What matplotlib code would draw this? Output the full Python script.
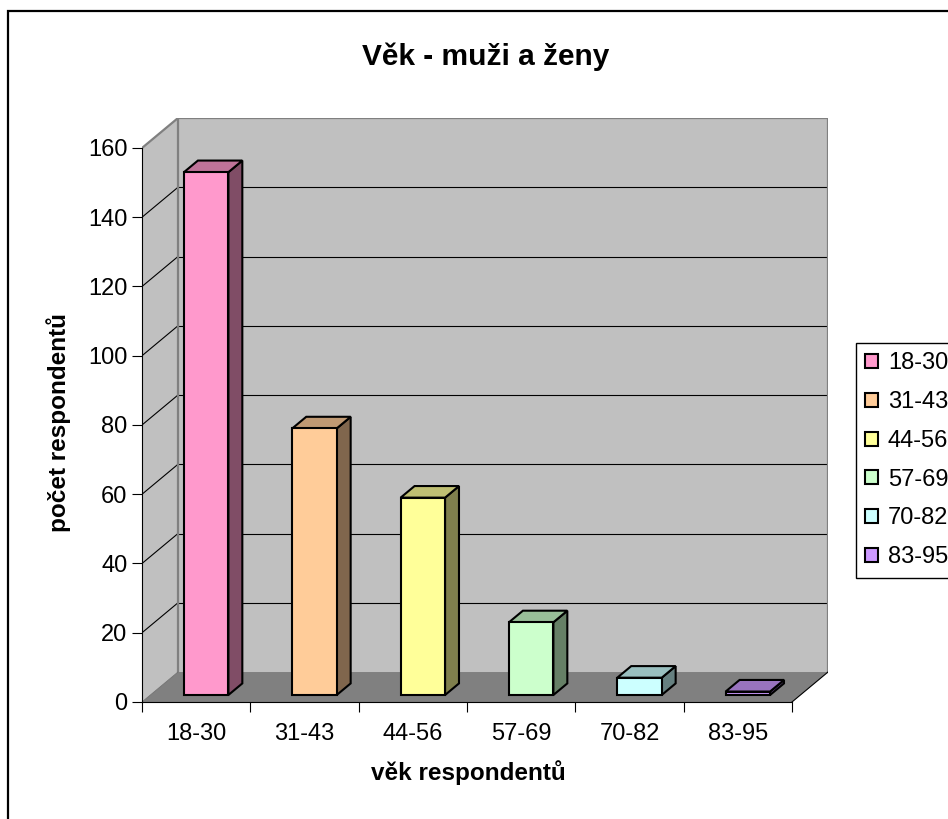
import matplotlib
matplotlib.use('Agg')
import matplotlib.pyplot as plt
from matplotlib.patches import Polygon, Rectangle, Patch

# ---------------------------------------------------------------- data
kategorie = ['18-30', '31-43', '44-56', '57-69', '70-82', '83-95']
pocet = [151, 77, 57, 21, 5, 1]
barvy = ['#FF99CC', '#FFCC99', '#FFFF99', '#CCFFCC', '#CCFFFF', '#CC99FF']
y_ticks = [0, 20, 40, 60, 80, 100, 120, 140, 160]

plt.rcParams['font.family'] = ['Liberation Sans', 'DejaVu Sans']

W, H = 948, 819
fig = plt.figure(figsize=(W / 100, H / 100), dpi=100)
ax = fig.add_axes([142 / W, 117 / H, 686 / W, 584 / H])

n = len(kategorie)
ymax = y_ticks[-1]
DX = 0.3324          # hloubka grafu v jednotkach kategorii
DY = 8.66            # hloubka grafu v jednotkach osy y
ax.set_xlim(0, n + DX)
ax.set_ylim(0, ymax + DY)


def stin(c, f):                                         # tmavsi odstin barvy
    r, g, b = matplotlib.colors.to_rgb(c)
    return (r * f, g * f, b * f)


# steny a podlaha
ax.add_patch(Polygon([(0, 0), (DX, DY), (DX, ymax + DY), (0, ymax)], fc='#C0C0C0', ec='none', zorder=0))
ax.add_patch(Rectangle((DX, DY), n, ymax, fc='#C0C0C0', ec='none', zorder=0))
ax.add_patch(Polygon([(0, 0), (n, 0), (n + DX, DY), (DX, DY)], fc='#808080', ec='none', zorder=0))

# mrizka
for v in y_ticks[1:-1]:
    ax.plot([0, DX], [v, v + DY], color='black', lw=0.8, zorder=1)
    ax.plot([DX, n + DX], [v + DY, v + DY], color='black', lw=0.8, zorder=1)

# hrany sten
ax.plot([DX, DX], [DY, ymax + DY], color='#808080', lw=1.6, zorder=1)
ax.plot([0, DX, n + DX, n + DX], [ymax, ymax + DY, ymax + DY, DY], color='#808080', lw=1.6, zorder=1)
ax.plot([n, n + DX], [0, DY], color='black', lw=0.8, zorder=1)
ax.plot([0, DX], [0, DY], color='#707070', lw=0.6, zorder=1)

# sloupce
d0, d1 = 0.233, 0.62
for i, (v, c) in enumerate(zip(pocet, barvy)):
    x0 = i + 0.31
    x1 = i + 0.72
    fx0, fx1, fy = x0 + d0 * DX, x1 + d0 * DX, d0 * DY
    bx0, bx1, by = x0 + d1 * DX, x1 + d1 * DX, d1 * DY
    kw = dict(ec='black', lw=1.5, joinstyle='miter', zorder=3)
    ax.add_patch(Polygon([(fx1, fy), (bx1, by), (bx1, v + by), (fx1, v + fy)], fc=stin(c, 0.5), **kw))
    ax.add_patch(Polygon([(fx0, v + fy), (fx1, v + fy), (bx1, v + by), (bx0, v + by)], fc=stin(c, 0.75), **kw))
    ax.add_patch(Polygon([(fx0, fy), (fx1, fy), (fx1, v + fy), (fx0, v + fy)], fc=c, **kw))

# osy
for s in ['top', 'right']:
    ax.spines[s].set_visible(False)
ax.spines['left'].set_bounds(0, ymax)
ax.spines['bottom'].set_bounds(0, n)
ax.spines['left'].set_linewidth(0.8)
ax.spines['bottom'].set_linewidth(0.8)
ax.set_yticks(y_ticks)
ax.tick_params(axis='y', direction='out', length=7, width=0.8, labelsize=17, pad=3.5)
ax.set_xticks(range(n + 1))
ax.set_xticklabels([])
ax.set_xticks([i + 0.5 for i in range(n)], minor=True)
ax.set_xticklabels(kategorie, minor=True)
ax.tick_params(axis='x', which='major', direction='out', length=7, width=0.8)
ax.tick_params(axis='x', which='minor', length=0, labelsize=17, pad=15)

# texty
fig.text(486 / W, 1 - 65 / H, 'Věk - muži a ženy', ha='center', va='baseline', fontsize=21.5, fontweight='bold')
fig.text(468 / W, 1 - 773 / H, 'věk respondentů', ha='center', va='center', fontsize=17.5, fontweight='bold')
fig.text(59 / W, 1 - 422 / H, 'počet respondentů', ha='center', va='center', rotation=90,
         fontsize=17.5, fontweight='bold')

# legenda
handles = [Patch(facecolor=c, edgecolor='black', linewidth=1.5) for c in barvy]
leg = fig.legend(handles, kategorie, loc='upper left', bbox_to_anchor=(856 / W, 1 - 343 / H),
                 fontsize=17, frameon=True, fancybox=False, framealpha=1, edgecolor='black',
                 borderpad=0.4, labelspacing=0.71, handlelength=0.55, handleheight=0.55,
                 handletextpad=0.4, borderaxespad=0)
leg.get_frame().set_linewidth(1.0)

# ramecek kolem grafu
fig.patches.append(Rectangle((8 / W, -0.02), 1.0, 1 - 11 / H + 0.02, transform=fig.transFigure,
                             fill=False, ec='black', lw=1.6))

fig.savefig('out.png', dpi=100)
